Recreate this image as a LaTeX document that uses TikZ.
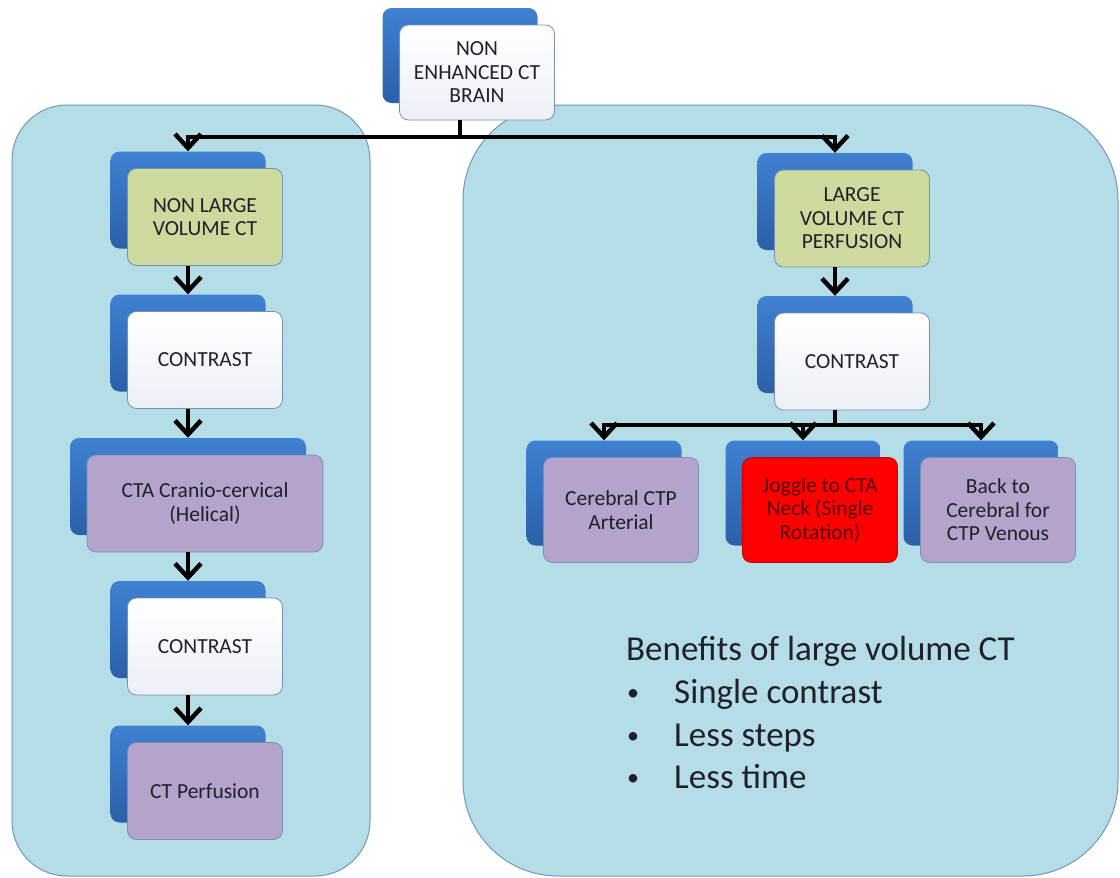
\documentclass[tikz,border=0pt]{standalone}
\usepackage{fontspec}
\setmainfont{Carlito}
\usetikzlibrary{arrows.meta}
\definecolor{panel}{HTML}{B5DDE8}
\definecolor{panelline}{HTML}{7396BA}
\definecolor{bluetop}{HTML}{3F82D2}
\definecolor{bluebot}{HTML}{2C5FA8}
\definecolor{gfill}{HTML}{CCDA9E}
\definecolor{pfill}{HTML}{B4A3CA}
\definecolor{wfill}{HTML}{ECEFF6}
\definecolor{rfill}{HTML}{FF0000}
\definecolor{fline}{HTML}{7990B3}
\definecolor{txt}{HTML}{20202A}
\definecolor{rtxt}{HTML}{5A0000}
\newcommand{\stk}[6]{%
  \node[backbox,#4] (#1b) at ({#2-17},{#3-17}) {};
  \node[frontbox,#4,#5] (#1) at (#2,#3) {#6};
}
\begin{document}
\begin{tikzpicture}[x=1pt,y=-1pt,
  panelbox/.style={draw=panelline, line width=1pt, fill=panel},
  backbox/.style={rounded corners=9pt, top color=bluetop, bottom color=bluebot, draw=none,
    minimum width=155pt, minimum height=97pt, inner sep=0pt},
  frontbox/.style={rounded corners=9pt, draw=fline, line width=0.8pt,
    minimum width=155pt, minimum height=97pt, inner sep=2pt, align=center,
    font=\fontsize{21.5}{23.5}\selectfont, text=txt},
  greenbox/.style={fill=gfill},
  whitebox/.style={top color=white, bottom color=wfill},
  purplebox/.style={fill=pfill},
  redbox/.style={fill=rfill, draw=rfill!80!black, text=rtxt},
  tallbox/.style={minimum height=105pt},
  widebox/.style={minimum width=236pt},
  link/.style={line width=4.5pt},
  flow/.style={line width=4.5pt, -{Straight Barb[length=14pt,width=26pt]}},
  bigtext/.style={font=\fontsize{35}{40}\selectfont, text=txt, anchor=base west, inner sep=0pt},
  dot/.style={font=\fontsize{24}{28}\selectfont, text=txt, anchor=base west, inner sep=0pt}
]
\useasboundingbox (0,0) rectangle (1120,878);
\fill[white] (0,0) rectangle (1120,878);
% panels
\path[panelbox, rounded corners=55pt] (12,105) rectangle (370,876);
\path[panelbox, rounded corners=95pt] (463,105) rectangle (1118,876);

% top
\stk{top}{477}{72.5}{minimum height=95pt}{whitebox}{NON\\ENHANCED CT\\BRAIN}
% left column
\stk{nlv}{205}{217}{}{greenbox}{NON LARGE\\VOLUME CT}
\stk{ca}{205}{360}{}{whitebox}{CONTRAST}
\stk{cta}{205}{503.5}{widebox}{purplebox}{CTA Cranio-cervical\\(Helical)}
\stk{cb}{205}{646.5}{}{whitebox}{CONTRAST}
\stk{ctp}{205}{791}{}{purplebox}{CT Perfusion}
% right column
\stk{lvp}{852}{218.5}{}{greenbox}{LARGE\\VOLUME CT\\PERFUSION}
\stk{cr}{852}{361.5}{}{whitebox}{CONTRAST}
\stk{cer}{621}{510}{tallbox}{purplebox}{Cerebral CTP\\Arterial}
\stk{jog}{820}{510}{tallbox}{redbox}{Joggle to CTA\\Neck (Single\\Rotation)}
\stk{bck}{998}{510}{tallbox}{purplebox}{Back to\\Cerebral for\\CTP Venous}

% connectors
\coordinate (j1) at (460,137);
\draw[link] (topb.south |- top.south) -- (j1);
\draw[flow] (j1) -| (nlvb.north);
\draw[flow] (j1) -| (lvpb.north);
\draw[flow] (nlvb.south |- nlv.south) -- (cab.north);
\draw[flow] (cab.south |- ca.south) -- (ctab.north);
\draw[flow] (ctab.south |- cta.south) -- (cbb.north);
\draw[flow] (cbb.south |- cb.south) -- (ctpb.north);
\draw[flow] (lvpb.south |- lvp.south) -- (crb.north);
\coordinate (j2) at (835,425);
\draw[link] (crb.south |- cr.south) -- (j2);
\draw[flow] (j2) -| (cerb.north);
\draw[flow] (j2) -| (jogb.north);
\draw[flow] (j2) -| (bckb.north);

% benefits
\node[bigtext] (ben) at (626,660) {Benefits of large volume CT};
\node[dot] (b1) at (627,700) {•};
\node[bigtext] (t1) at (674,703) {Single contrast};
\node[dot] (b2) at (627,743) {•};
\node[bigtext] (t2) at (674,746) {Less steps};
\node[dot] (b3) at (627,785) {•};
\node[bigtext] (t3) at (674,788) {Less time};
\end{tikzpicture}
\end{document}
